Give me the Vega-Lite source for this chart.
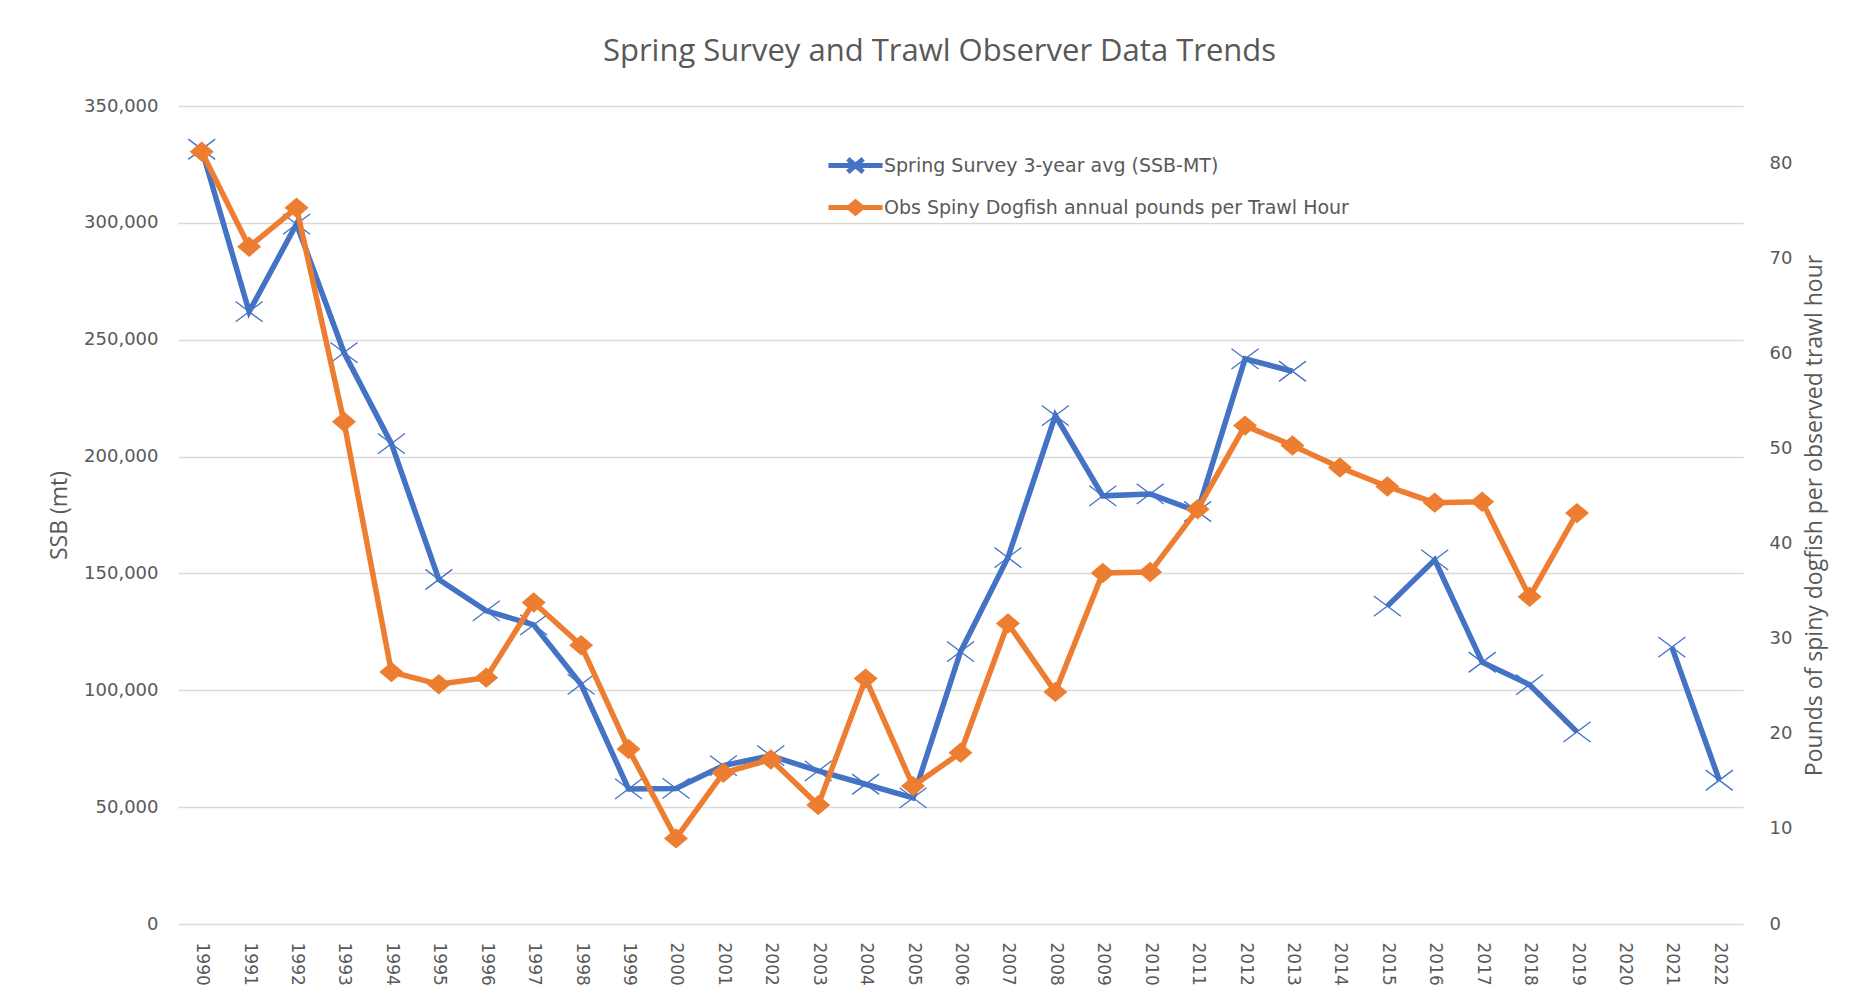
{
  "$schema": "https://vega.github.io/schema/vega-lite/v6.json",
  "width": 1565,
  "height": 818,
  "autosize": {"type": "none"},
  "padding": {"left": 178, "top": 106, "right": 121, "bottom": 77},
  "background": "white",
  "config": {
    "view": {"stroke": null},
    "axis": {"labelColor": "#595959", "titleColor": "#595959", "labelFont": "DejaVu Sans", "labelFontSize": 18, "titleFont": "Open Sans", "titleFontSize": 23, "titleFontWeight": "normal", "domain": false, "ticks": false}
  },
  "title": {
    "text": "Spring Survey and Trawl Observer Data Trends",
    "font": "Open Sans",
    "fontSize": 31,
    "fontWeight": "normal",
    "color": "#595959",
    "anchor": "middle",
    "baseline": "alphabetic",
    "offset": 5,
    "dx": -21
  },
  "data": {
    "values": [
      {"year": "1990", "ssb": 331500, "obs": 81.2},
      {"year": "1991", "ssb": 262000, "obs": 71.2},
      {"year": "1992", "ssb": 299500, "obs": 75.3},
      {"year": "1993", "ssb": 244500, "obs": 52.8},
      {"year": "1994", "ssb": 205500, "obs": 26.5},
      {"year": "1995", "ssb": 147400, "obs": 25.2},
      {"year": "1996", "ssb": 134000, "obs": 25.9},
      {"year": "1997", "ssb": 128000, "obs": 33.8},
      {"year": "1998", "ssb": 102500, "obs": 29.3},
      {"year": "1999", "ssb": 57800, "obs": 18.4},
      {"year": "2000", "ssb": 58000, "obs": 9.0},
      {"year": "2001", "ssb": 67800, "obs": 15.9},
      {"year": "2002", "ssb": 72000, "obs": 17.3},
      {"year": "2003", "ssb": 65500, "obs": 12.5},
      {"year": "2004", "ssb": 59800, "obs": 25.8},
      {"year": "2005", "ssb": 54000, "obs": 14.5},
      {"year": "2006", "ssb": 116500, "obs": 18.0},
      {"year": "2007", "ssb": 156800, "obs": 31.6},
      {"year": "2008", "ssb": 217500, "obs": 24.4},
      {"year": "2009", "ssb": 183200, "obs": 36.9},
      {"year": "2010", "ssb": 184000, "obs": 37.0},
      {"year": "2011", "ssb": 176500, "obs": 43.6},
      {"year": "2012", "ssb": 241800, "obs": 52.4},
      {"year": "2013", "ssb": 236500, "obs": 50.3},
      {"year": "2014", "ssb": null, "obs": 48.0},
      {"year": "2015", "ssb": 136000, "obs": 46.0},
      {"year": "2016", "ssb": 155800, "obs": 44.3},
      {"year": "2017", "ssb": 112000, "obs": 44.4},
      {"year": "2018", "ssb": 102400, "obs": 34.4},
      {"year": "2019", "ssb": 82200, "obs": 43.2},
      {"year": "2020", "ssb": null, "obs": null},
      {"year": "2021", "ssb": 118500, "obs": null},
      {"year": "2022", "ssb": 61500, "obs": null}
    ]
  },
  "encoding": {
    "x": {
      "field": "year",
      "type": "ordinal",
      "scale": {"type": "point", "padding": 0.5},
      "axis": {"labelAngle": 90, "title": null, "labelPadding": 18, "labelFontSize": 17, "grid": false}
    }
  },
  "layer": [
    {
      "encoding": {
        "y": {
          "field": "ssb",
          "type": "quantitative",
          "scale": {"domain": [0, 350000], "nice": false},
          "axis": {"title": "SSB (mt)", "values": [0, 50000, 100000, 150000, 200000, 250000, 300000, 350000], "format": ",.0f", "grid": true, "gridColor": "#D9D9D9", "gridWidth": 1.3, "labelPadding": 20, "titlePadding": 12}
        }
      },
      "layer": [
        {
          "mark": {"type": "line", "strokeWidth": 5.5, "invalid": "break-paths-show-domains"},
          "encoding": {
            "color": {
              "datum": "Spring Survey 3-year avg (SSB-MT)",
              "scale": {"domain": ["Spring Survey 3-year avg (SSB-MT)", "Obs Spiny Dogfish annual pounds per Trawl Hour"], "range": ["#4472C4", "#ED7D31"]},
              "legend": {
                "title": null,
                "orient": "none",
                "legendX": 653,
                "legendY": 35,
                "padding": 0,
                "rowPadding": 0,
                "symbolSize": 1936,
                "symbolStrokeWidth": 5,
                "labelOffset": 4,
                "labelLimit": 0,
                "labelFont": "DejaVu Sans",
                "labelFontSize": 19,
                "labelColor": "#595959",
                "encode": {
                  "symbols": {
                    "update": {
                      "shape": {"signal": "datum.value === 'Spring Survey 3-year avg (SSB-MT)' ? 'M-1.23,0L1.23,0M-0.35,-0.3L0.35,0.3M-0.35,0.3L0.35,-0.3' : 'M-1.23,0L1.23,0M0,-0.25L0.3,0L0,0.25L-0.3,0Z'"},
                      "fill": {"signal": "datum.value === 'Spring Survey 3-year avg (SSB-MT)' ? 'transparent' : '#ED7D31'"},
                      "strokeWidth": {"value": 5}
                    }
                  }
                }
              }
            }
          }
        },
        {
          "mark": {"type": "point", "shape": "M-1,-0.75L1,0.75M-1,0.75L1,-0.75", "size": 729, "filled": false, "stroke": "#4472C4", "strokeWidth": 1.3, "opacity": 1}
        }
      ]
    },
    {
      "encoding": {
        "y": {
          "field": "obs",
          "type": "quantitative",
          "scale": {"domain": [0, 86], "nice": false},
          "axis": {"orient": "right", "title": "Pounds of spiny dogfish per observed trawl hour", "values": [0, 10, 20, 30, 40, 50, 60, 70, 80], "grid": false, "labelPadding": 26, "titlePadding": 12, "titleAngle": 270, "titleBaseline": "top"}
        }
      },
      "layer": [
        {
          "mark": {"type": "line", "strokeWidth": 5.5, "invalid": "break-paths-show-domains"},
          "encoding": {
            "color": {"datum": "Obs Spiny Dogfish annual pounds per Trawl Hour"}
          }
        },
        {
          "mark": {"type": "point", "shape": "M-1,0L0,-0.85L1,0L0,0.85Z", "size": 576, "filled": true, "fill": "#ED7D31", "opacity": 1}
        }
      ]
    }
  ],
  "resolve": {"scale": {"y": "independent"}}
}
